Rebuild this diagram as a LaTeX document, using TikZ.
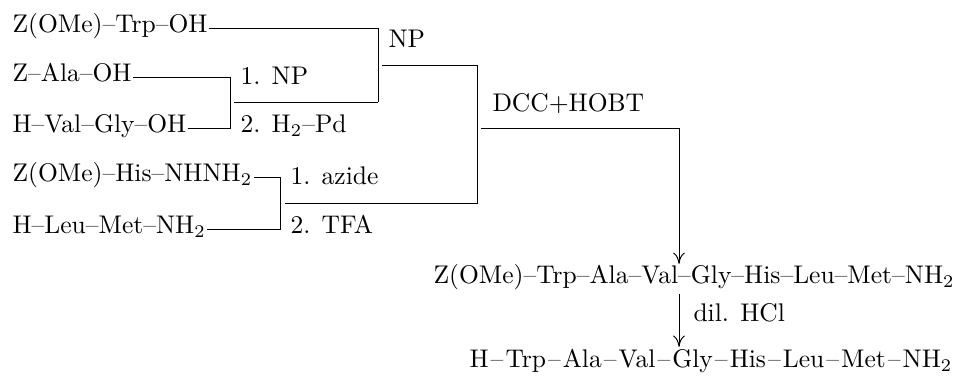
\documentclass[tikz,border=0pt]{standalone}
\usepackage{fontspec}
\setmainfont{Latin Modern Roman}
\usetikzlibrary{arrows.meta}
\newcommand{\pd}{--}
\newcommand{\pdw}{\kern0.8pt--\kern0.8pt}
\newcommand{\sub}[1]{\textsubscript{#1}}
\begin{document}
\begin{tikzpicture}[x=0.392pt,y=-0.392pt,
  every node/.style={font=\fontsize{10}{12}\selectfont},
  pep/.style={anchor=west, inner xsep=0.4pt, inner ysep=0pt, text height=6.5pt, text depth=2.58pt},
  lab/.style={anchor=base west, inner sep=0pt},
  link/.style={line width=0.38pt},
  arr/.style={line width=0.38pt, -{To[length=4.4pt,width=4.6pt]}}]
\useasboundingbox (0,0) rectangle (966,378);
% starting materials
\node[pep] (a1) at (11,28) {Z(OMe)\pd Trp\pd OH};
\node[pep] (a2) at (11,77) {Z\pd Ala\pd OH};
\node[pep] (a3) at (11,128) {H\pd Val\pd Gly\pd OH};
\node[pep] (a4) at (11,177) {Z(OMe)\pd His\pd NHNH\sub{2}};
\node[pep] (a5) at (11,229) {H\pd Leu\pd Met\pd NH\sub{2}};
% bracket corners
\coordinate (b1t) at (230,77);
\coordinate (b1b) at (230,128);
\coordinate (b1o) at (234,102);
\coordinate (c1t) at (378,28);
\coordinate (c1b) at (378,102);
\coordinate (c1o) at (382,65);
\coordinate (b2t) at (280,177);
\coordinate (b2b) at (280,229);
\coordinate (b2o) at (285,203);
\coordinate (d1t) at (477,65);
\coordinate (d1b) at (477,203);
\coordinate (d1o) at (481,128);
\coordinate (e1) at (679,128);
% labels
\node[lab] (l1) at (240,85) {1. NP};
\node[lab] (l2) at (240,133) {2. H\sub{2}\pd Pd};
\node[lab] (l3) at (388,48) {NP};
\node[lab] (l4) at (290,185) {1. azide};
\node[lab] (l5) at (290,234) {2. TFA};
\node[lab] (l6) at (492,112) {DCC+HOBT};
% products
\node[pep, anchor=base west] (p1) at (432,284) {Z(OMe)\pd Trp\pd Ala\pd Val\pd Gly\pd His\pd Leu\pd Met\pd NH\sub{2}};
\node[pep, anchor=base west] (p2) at (468,368) {H\pdw Trp\pdw Ala\pdw Val\pdw Gly\pdw His\pdw Leu\pdw Met\pdw NH\sub{2}};
\node[lab] (l7) at (693,322) {dil. HCl};
% connectors
\draw[link] (a2.east) -- (b1t) -- (b1b) -- (a3.east);
\draw[link] (b1o) -- (c1b);
\draw[link] (a1.east) -- (c1t) -- (c1b);
\draw[link] (a4.east) -- (b2t) -- (b2b) -- (a5.east);
\draw[link] (b2o) -- (d1b) -- (d1t) -- (c1o);
\draw[arr, shorten >=1.2pt] (d1o) -- (e1) -- (e1 |- p1.north);
\draw[arr, shorten <=1.2pt, shorten >=1.6pt] (e1 |- p1.south) -- (e1 |- p2.north);
\end{tikzpicture}
\end{document}
